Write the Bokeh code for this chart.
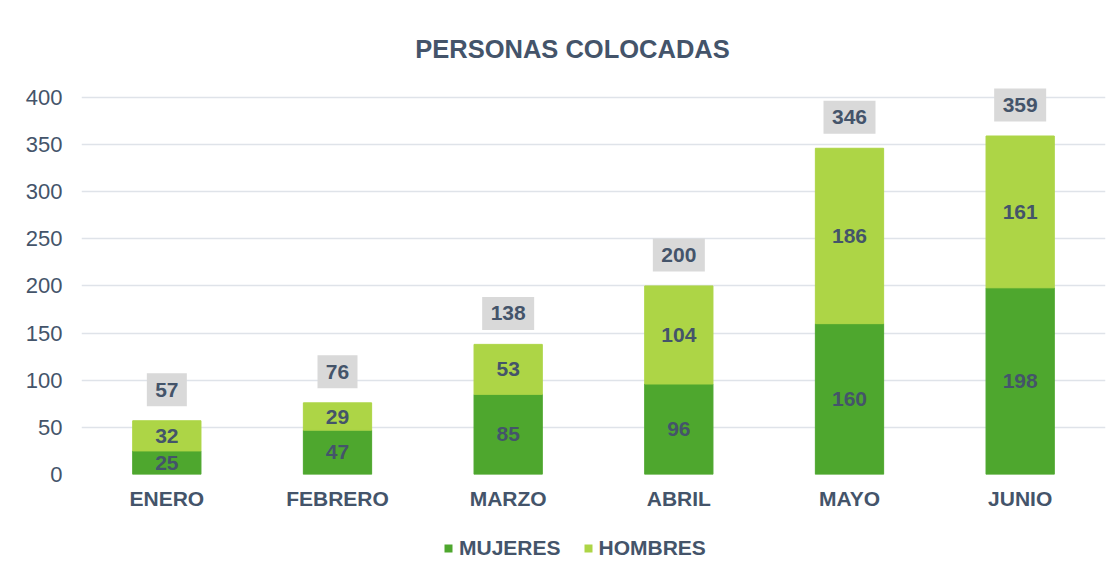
from bokeh.plotting import figure
from bokeh.models import (ColumnDataSource, Legend, LegendItem, FactorRange,
                          Range1d, FixedTicker, Label)
from bokeh.layouts import column
from bokeh.embed import file_html
from bokeh.resources import INLINE
from bokeh.core.properties import value

# ---------------- data ----------------
months = ["ENERO", "FEBRERO", "MARZO", "ABRIL", "MAYO", "JUNIO"]
mujeres = [25, 47, 85, 96, 160, 198]
hombres = [32, 29, 53, 104, 186, 161]
totals = [57, 76, 138, 200, 346, 359]
series = ["MUJERES", "HOMBRES"]
y_ticks = [0, 50, 100, 150, 200, 250, 300, 350, 400]
title_text = "PERSONAS COLOCADAS"

# ---------------- style ----------------
DARK = "#4EA72E"
LIGHT = "#ADD546"
COLORS = [DARK, LIGHT]
TEXT = "#44546A"
GRID = "#DFE3E9"
BOX = "#D9D9D9"
FONT = "Liberation Sans"

W = 1112
HEAD_H, MAIN_H, FOOT_H = 66, 458, 48
LEFT, RIGHT, TOP, BOTTOM = 81, 7, 12, 50
FRAME_LEFT = LEFT  # column layouts align the frames of all figures
frame_h = MAIN_H - TOP - BOTTOM
y_top = 420           # a little headroom above the 400 gridline for the total boxes
px = frame_h / y_top  # pixels per unit


def blank(height):
    f = figure(width=W, height=height, output_backend="svg", toolbar_location=None,
               x_range=Range1d(0, 1), y_range=Range1d(0, 1),
               x_axis_type=None, y_axis_type=None,
               min_border=0, min_border_left=0, min_border_right=0,
               min_border_top=0, min_border_bottom=0)
    f.outline_line_color = None
    f.grid.grid_line_color = None
    return f


# ---------------- header (title) ----------------
head = blank(HEAD_H)
head.add_layout(Label(x=572 - FRAME_LEFT, y=HEAD_H - 48, x_units="screen", y_units="screen",
                      text=title_text, text_align="center", text_baseline="middle",
                      text_font=FONT, text_font_style="bold", text_font_size="25.5px",
                      text_color=TEXT))

# ---------------- main chart ----------------
src = ColumnDataSource(dict(
    month=months,
    MUJERES=mujeres,
    HOMBRES=hombres,
    mid_m=[m / 2 for m in mujeres],
    mid_h=[m + h / 2 for m, h in zip(mujeres, hombres)],
    m_str=[str(v) for v in mujeres],
    h_str=[str(v) for v in hombres],
    t_str=[str(v) for v in totals],
    box_y=[t + 31 / px for t in totals],
    box_w=[16 + 12 * len(str(t)) for t in totals],
))

p = figure(x_range=FactorRange(*months), y_range=Range1d(0, y_top),
           width=W, height=MAIN_H, output_backend="svg", toolbar_location=None,
           min_border_left=LEFT, min_border_right=RIGHT,
           min_border_top=TOP, min_border_bottom=BOTTOM)
p.outline_line_color = None

p.vbar_stack(series, x="month", width=0.4, color=COLORS, source=src)

common = dict(text_align="center", text_baseline="middle", text_font=value(FONT),
              text_font_style="bold", text_font_size="21px", text_color=TEXT, source=src)
p.text(x="month", y="mid_m", text="m_str", **common)
p.text(x="month", y="mid_h", text="h_str", **common)

p.rect(x="month", y="box_y", width="box_w", height=33, width_units="screen",
       height_units="screen", fill_color=BOX, line_color=None, source=src)
p.text(x="month", y="box_y", text="t_str", **common)

p.xgrid.grid_line_color = None
p.ygrid.grid_line_color = GRID
p.ygrid.grid_line_width = 1.5
p.yaxis.ticker = FixedTicker(ticks=y_ticks)
for ax in (p.xaxis, p.yaxis):
    ax.axis_line_color = None
    ax.major_tick_line_color = None
    ax.minor_tick_line_color = None
    ax.major_tick_out = 0
    ax.major_tick_in = 0
    ax.major_label_text_font = FONT
    ax.major_label_text_color = TEXT
p.yaxis.major_label_text_font_size = "22px"
p.xaxis.major_label_text_font_size = "21px"
p.xaxis.major_label_text_font_style = "bold"
p.xaxis.major_label_standoff = 12
p.yaxis.major_label_standoff = 19

# ---------------- footer (legend) ----------------
foot = blank(FOOT_H)
# zero-size bars: they only provide the legend keys
leg_rs = [foot.vbar(x=[0.5], top=[0], bottom=[0], width=0, fill_color=c, line_color=None)
          for c in COLORS]
legend = Legend(items=[LegendItem(label=s, renderers=[r]) for s, r in zip(series, leg_rs)],
                orientation="horizontal", location=(443 - FRAME_LEFT, 12),
                glyph_width=10, glyph_height=10, label_standoff=6, spacing=22,
                padding=0, margin=0, border_line_color=None,
                background_fill_alpha=0,
                label_text_font=FONT, label_text_font_style="bold",
                label_text_font_size="21px", label_text_color=TEXT)
foot.add_layout(legend, "center")

layout = column(head, p, foot, spacing=0)
open("out.html", "w").write(file_html(layout, INLINE))
